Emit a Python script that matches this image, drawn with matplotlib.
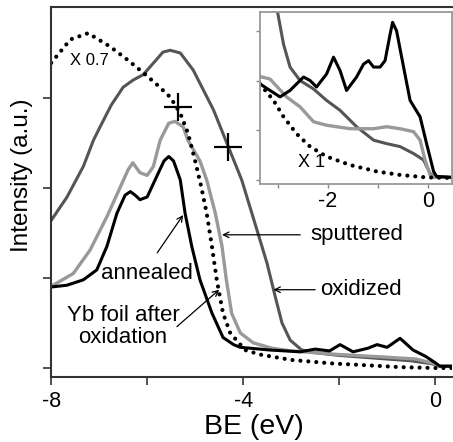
import matplotlib
matplotlib.use("Agg")
import matplotlib.pyplot as plt

plt.rcParams["font.family"] = ["Liberation Sans", "DejaVu Sans"]

# main panel (BE in eV, intensity in arbitrary units)
oxidized_x = [-8.0, -7.67, -7.33, -7.12, -6.98, -6.75, -6.5, -6.29, -6.08, -5.85, -5.67,
              -5.52, -5.31, -5.04, -4.62, -4.31, -4.03, -3.71, -3.5, -3.33, -3.19, -3.02,
              -2.78, -2.5, -2.0, -1.5, -1.0, -0.5, -0.1, 0.1, 0.35]
oxidized_y = [1.64, 1.9, 2.24, 2.53, 2.68, 2.92, 3.12, 3.2, 3.26, 3.4, 3.51,
              3.53, 3.5, 3.31, 2.87, 2.46, 2.09, 1.53, 1.16, 0.79, 0.5, 0.31,
              0.2, 0.17, 0.14, 0.12, 0.1, 0.08, 0.05, 0.02, 0.02]

sputtered_x = [-7.96, -7.54, -7.19, -6.84, -6.56, -6.4, -6.3, -6.15, -6.0, -5.87, -5.73,
               -5.55, -5.42, -5.25, -5.15, -4.9, -4.76, -4.58, -4.44, -4.35, -4.24, -4.06,
               -3.79, -3.4, -3.0, -2.0, -1.0, -0.4, -0.1, 0.1, 0.35]
sputtered_y = [0.92, 1.05, 1.31, 1.68, 2.01, 2.2, 2.28, 2.17, 2.14, 2.24, 2.53,
               2.72, 2.74, 2.68, 2.53, 2.3, 2.09, 1.72, 1.35, 0.98, 0.61, 0.39,
               0.28, 0.22, 0.19, 0.15, 0.12, 0.1, 0.06, 0.02, 0.02]

annealed_x = [-8.0, -7.67, -7.33, -7.05, -6.84, -6.63, -6.46, -6.35, -6.25, -6.15, -6.0,
              -5.8, -5.65, -5.55, -5.45, -5.31, -5.21, -5.07, -4.9, -4.65, -4.42, -4.2,
              -4.06, -3.44, -2.81, -2.5, -2.2, -1.98, -1.71, -1.4, -1.21, -1.0, -0.73,
              -0.46, -0.2, 0.0, 0.1, 0.35]
annealed_y = [0.9, 0.92, 0.98, 1.09, 1.35, 1.72, 1.92, 1.96, 1.92, 1.87, 1.9,
              2.13, 2.3, 2.35, 2.3, 2.09, 1.72, 1.35, 0.98, 0.61, 0.34, 0.26,
              0.23, 0.2, 0.18, 0.21, 0.19, 0.26, 0.18, 0.22, 0.26, 0.23, 0.33,
              0.2, 0.13, 0.06, 0.02, 0.02]

foil_x = [-8.0, -7.6, -7.23, -6.77, -6.4, -6.08, -5.8, -5.52, -5.31, -5.15, -5.0,
          -4.88, -4.76, -4.65, -4.55, -4.42, -4.27, -3.96, -3.65, -3.0, -2.12, -1.4,
          -0.73, 0.0, 0.35]
foil_y = [3.39, 3.65, 3.72, 3.57, 3.42, 3.28, 3.15, 3.01, 2.83, 2.61, 2.3,
          2.03, 1.72, 1.35, 0.98, 0.61, 0.39, 0.2, 0.15, 0.09, 0.05, 0.03,
          0.01, 0.0, 0.0]

cross_x = [-5.35, -4.31]
cross_y = [2.9, 2.46]

# inset (valence band edge, same series)
in_oxidized_x = [-3.01, -2.89, -2.76, -2.56, -2.29, -2.03, -1.76, -1.43, -1.09, -0.83,
                 -0.56, -0.29, -0.09, 0.04, 0.11, 0.48]
in_oxidized_y = [3.38, 2.73, 2.27, 2.0, 1.83, 1.6, 1.4, 1.07, 0.8, 0.73,
                 0.67, 0.53, 0.4, 0.13, 0.07, 0.05]

in_sputtered_x = [-3.36, -3.16, -2.83, -2.56, -2.29, -2.03, -1.56, -1.09, -0.83, -0.56,
                  -0.29, -0.16, -0.06, 0.04, 0.12, 0.48]
in_sputtered_y = [2.08, 2.03, 1.67, 1.47, 1.17, 1.1, 1.03, 1.03, 1.07, 1.03,
                  0.97, 0.8, 0.4, 0.1, 0.05, 0.05]

in_annealed_x = [-3.36, -2.96, -2.76, -2.49, -2.36, -2.23, -2.03, -1.89, -1.76, -1.63,
                 -1.43, -1.29, -1.19, -1.09, -0.96, -0.86, -0.76, -0.71, -0.63, -0.49,
                 -0.36, -0.16, -0.03, 0.11, 0.17, 0.48]
in_annealed_y = [1.93, 1.67, 1.8, 2.07, 2.0, 1.87, 2.13, 2.47, 2.2, 1.8,
                 2.07, 2.33, 2.4, 2.27, 2.27, 2.4, 2.93, 3.17, 3.0, 2.27,
                 1.6, 1.27, 0.73, 0.17, 0.07, 0.05]

in_foil_x = [-3.36, -3.09, -2.89, -2.63, -2.36, -2.03, -1.56, -1.03, -0.56, -0.03, 0.48]
in_foil_y = [1.93, 1.6, 1.27, 0.93, 0.67, 0.47, 0.3, 0.17, 0.1, 0.05, 0.04]

DARK = "#555555"
LIGHT = "#999999"
DOTS = (0, (0.01, 1.9))

fig = plt.figure(figsize=(4.53, 4.42), dpi=100)
ax = fig.add_axes([0.113, 0.147, 0.885, 0.837])

ax.plot(oxidized_x, oxidized_y, color=DARK, lw=2.2)
ax.plot(sputtered_x, sputtered_y, color=LIGHT, lw=2.4)
ax.plot(annealed_x, annealed_y, color="black", lw=2.2)
ax.plot(foil_x, foil_y, color="black", lw=3, linestyle=DOTS, dash_capstyle="round")
ax.plot(cross_x, cross_y, linestyle="none", marker="+", markersize=20,
        markeredgewidth=1.6, color="black")

ax.set_xlim(-8, 0.354)
ax.set_ylim(-0.1, 4.01)
ax.set_xticks([-8, -6, -4, -2, 0])
ax.set_xticklabels(["-8", "", "-4", "", "0"])
ax.set_yticks([0, 1, 2, 3])
ax.set_yticklabels([])
ax.tick_params(axis="both", direction="out", length=6, width=1.2, color="#333333",
               labelsize=15.5, pad=4)
for side in ["left", "bottom", "top"]:
    ax.spines[side].set_color("#333333")
    ax.spines[side].set_linewidth(1.5)
ax.spines["right"].set_visible(False)
ax.set_xlabel("BE (eV)", fontsize=20.5)
ax.set_ylabel("Intensity (a.u.)", fontsize=17.5)
ax.xaxis.set_label_coords(0.506, -0.1)
ax.yaxis.set_label_coords(-0.045, 0.546)

ax.text(-7.6, 3.42, "X 0.7", fontsize=12, va="center", ha="left")

arrow = dict(arrowstyle="->", color="black", lw=0.9, shrinkA=0, shrinkB=0)
ax.annotate("", xy=(-5.25, 1.7), xytext=(-5.79, 1.28), arrowprops=arrow)
ax.text(-6.0, 1.05, "annealed", fontsize=16, ha="center", va="center")
ax.annotate("", xy=(-4.5, 0.87), xytext=(-5.38, 0.46), arrowprops=arrow)
ax.text(-6.5, 0.46, "Yb foil after\noxidation", fontsize=16, ha="center",
        va="center", linespacing=1.1)
ax.annotate("", xy=(-4.44, 1.48), xytext=(-2.81, 1.48), arrowprops=arrow)
ax.text(-2.6, 1.48, "sputtered", fontsize=16, ha="left", va="center")
ax.annotate("", xy=(-3.37, 0.87), xytext=(-2.5, 0.87), arrowprops=arrow)
ax.text(-2.4, 0.87, "oxidized", fontsize=16, ha="left", va="center")

ins = fig.add_axes([0.574, 0.584, 0.424, 0.389])
ins.plot(in_oxidized_x, in_oxidized_y, color=DARK, lw=2.2)
ins.plot(in_sputtered_x, in_sputtered_y, color=LIGHT, lw=2.4)
ins.plot(in_annealed_x, in_annealed_y, color="black", lw=2.2)
ins.plot(in_foil_x, in_foil_y, color="black", lw=3, linestyle=DOTS, dash_capstyle="round")
ins.text(-2.6, 0.36, "X 1", fontsize=13, ha="left", va="center")
ins.set_xlim(-3.36, 0.48)
ins.set_ylim(-0.08, 3.38)
ins.set_xticks([-3, -2, -1, 0])
ins.set_xticklabels(["", "-2", "", "0"])
ins.set_yticks([0, 1, 2, 3])
ins.set_yticklabels([])
ins.tick_params(axis="both", direction="out", length=3, width=1, color="#888888",
                labelsize=15.5, pad=2)
for side in ins.spines.values():
    side.set_color("#999999")
    side.set_linewidth(1.3)

fig.savefig("out.png", dpi=100)
